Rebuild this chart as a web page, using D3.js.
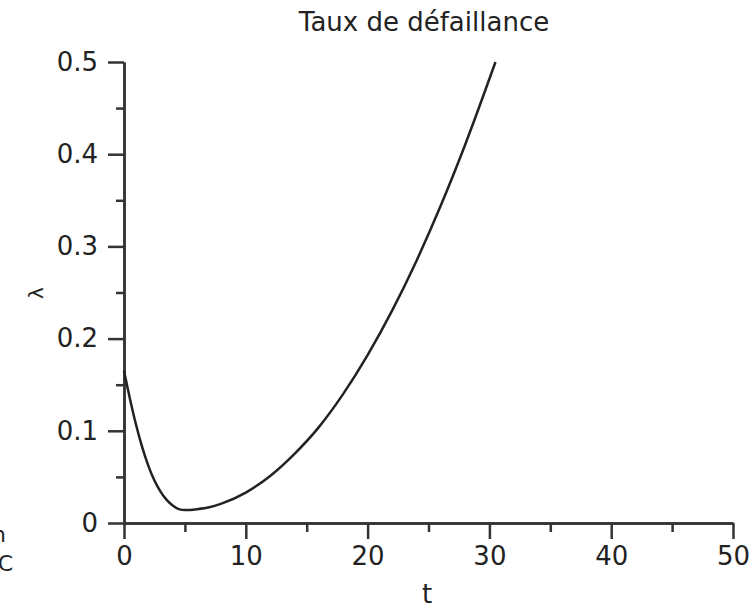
<!DOCTYPE html>
<html>
<head>
<meta charset="utf-8">
<script src="https://cdn.jsdelivr.net/npm/d3@7"></script>
<style>
  body { margin: 0; background: #fff; }
  text { font-family: 'DejaVu Sans', sans-serif; fill: #222; }
</style>
</head>
<body>
<div id="chart"></div>
<script>
// values
const tValues = [0, 0.5, 1, 1.5, 2, 2.5, 3, 3.5, 4, 4.5, 5, 6, 7, 8, 10, 12, 14, 16, 18, 20, 22, 24, 26, 28, 30.5]
const lambdaValues = [0.165, 0.134, 0.106, 0.082, 0.062, 0.046, 0.034, 0.025, 0.019, 0.015, 0.014, 0.015, 0.017, 0.021, 0.033, 0.051, 0.075, 0.104, 0.14, 0.182, 0.23, 0.284, 0.344, 0.41, 0.5]
const xTicks = [0, 10, 20, 30, 40, 50]
const xMinor = [5, 15, 25, 35, 45]
const yTicks = [0, 0.1, 0.2, 0.3, 0.4, 0.5]
const yMinor = [0.05, 0.15, 0.25, 0.35, 0.45]
const title = 'Taux de défaillance'

const W = 753, H = 608
const svg = d3.select('#chart').append('svg')
  .attr('width', W).attr('height', H)

const x = d3.scaleLinear().domain([0, 50]).range([124, 733])
const y = d3.scaleLinear().domain([0, 0.5]).range([523, 62])

const axisColor = '#333'

// minor ticks first
svg.append('g')
  .attr('transform', 'translate(124,0)')
  .call(d3.axisLeft(y).tickValues(yMinor).tickSize(8).tickSizeOuter(0).tickFormat(''))
svg.append('g')
  .attr('transform', 'translate(0,523)')
  .call(d3.axisBottom(x).tickValues(xMinor).tickSize(9).tickSizeOuter(0).tickFormat(''))

// major ticks + labels
svg.append('g')
  .attr('transform', 'translate(124,0)')
  .call(d3.axisLeft(y).tickValues(yTicks).tickSize(16).tickSizeOuter(0).tickPadding(10)
    .tickFormat(d => d === 0 ? '0' : d3.format('.1f')(d)))
svg.append('g')
  .attr('transform', 'translate(0,523)')
  .call(d3.axisBottom(x).tickValues(xTicks).tickSize(16).tickSizeOuter(0).tickPadding(8)
    .tickFormat(d3.format('d')))

svg.selectAll('.domain, .tick line')
  .attr('stroke', axisColor).attr('stroke-width', 2.5)
svg.selectAll('.tick text')
  .style('font-family', "'DejaVu Sans', sans-serif")
  .style('font-size', '26px').attr('fill', '#222')

// curve
const line = d3.line()
  .x((d, i) => x(tValues[i]))
  .y(d => y(d))
  .curve(d3.curveMonotoneX)
svg.append('path')
  .datum(lambdaValues)
  .attr('d', line)
  .attr('fill', 'none')
  .attr('stroke', '#222')
  .attr('stroke-width', 2.5)

// titles
svg.append('text')
  .attr('x', 424).attr('y', 31)
  .attr('text-anchor', 'middle')
  .style('font-size', '26px')
  .text(title)

svg.append('text')
  .attr('x', 427).attr('y', 603)
  .attr('text-anchor', 'middle')
  .style('font-size', '26px')
  .text('t')

svg.append('text')
  .attr('transform', 'translate(43,293) rotate(-90)')
  .attr('text-anchor', 'middle')
  .style('font-size', '20px')
  .text('λ')

// clipped pieces of neighbouring text at the left edge
svg.append('text')
  .attr('x', 6).attr('y', 542)
  .attr('text-anchor', 'end')
  .style('font-size', '22px')
  .text('n')
svg.append('text')
  .attr('x', 13).attr('y', 571)
  .attr('text-anchor', 'end')
  .style('font-size', '22px')
  .text('0C')
</script>
</body>
</html>
